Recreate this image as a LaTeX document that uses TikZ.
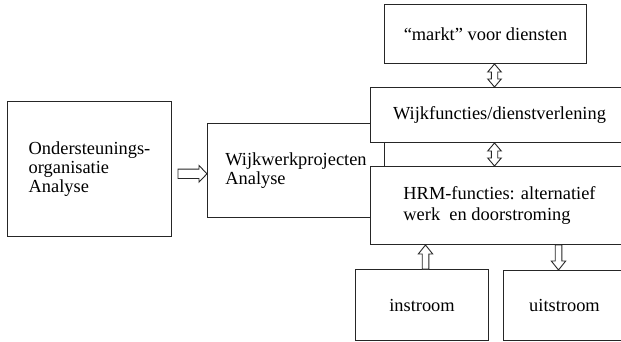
\documentclass[tikz,border=0pt]{standalone}
\usepackage{fontspec}
\setmainfont{Liberation Serif}
\usetikzlibrary{calc}

\tikzset{
  box/.style={draw=black!85, line width=1pt, fill=white, rectangle,
    inner sep=0pt, anchor=north west, align=left,
    font=\fontsize{18.4}{19}\selectfont},
  hollow/.style={draw=black!85, line width=0.9pt, fill=white, line join=miter},
}

% open single-headed arrow: tail, tip, shaft half-width, head half-width, head length
\newcommand\openarrow[5]{%
  \coordinate (oa-h) at ($(#2)!#5!(#1)$);
  \draw[hollow] ($(#1)!#3!90:(#2)$) -- ($(oa-h)!#3!90:(#2)$)
    -- ($(oa-h)!#4!90:(#2)$) -- (#2) -- ($(oa-h)!#4!-90:(#2)$)
    -- ($(oa-h)!#3!-90:(#2)$) -- ($(#1)!#3!-90:(#2)$) -- cycle;
}
% open double-headed arrow between two points
\newcommand\opendoublearrow[5]{%
  \coordinate (da-a) at ($(#1)!#5!(#2)$);
  \coordinate (da-b) at ($(#2)!#5!(#1)$);
  \draw[hollow] (#1) -- ($(da-a)!#4!90:(#2)$) -- ($(da-a)!#3!90:(#2)$)
    -- ($(da-b)!#3!90:(#2)$) -- ($(da-b)!#4!90:(#2)$) -- (#2)
    -- ($(da-b)!#4!-90:(#2)$) -- ($(da-b)!#3!-90:(#2)$)
    -- ($(da-a)!#3!-90:(#2)$) -- ($(da-a)!#4!-90:(#2)$) -- cycle;
}

\begin{document}
\begin{tikzpicture}[x=1pt, y=-1pt]
  \useasboundingbox (0,0) rectangle (621,342);
  \clip (0,0) rectangle (621,342);

  % boxes
  \node[box, minimum width=164, minimum height=135] (L) at (7,101)
    {Ondersteunings-\\organisatie\\Analyse};
  \node[box, minimum width=177, minimum height=94] (WP) at (207,123)
    {Wijkwerkprojecten\\Analyse};
  \node[box, minimum width=258, minimum height=55] (WF) at (370,87)
    {Wijkfuncties/dienstverlening};
  \node[box, minimum width=258, minimum height=78,
    font=\fontsize{18.4}{21}\selectfont] (HRM) at (370,166)
    {HRM-functies: alternatief\\werk\ \ en doorstroming};
  \node[box, minimum width=202, minimum height=59] (M) at (384,4)
    {“markt” voor diensten};
  \node[box, minimum width=133, minimum height=71] (I) at (355,269)
    {instroom};
  \node[box, minimum width=122, minimum height=70] (U) at (503,270)
    {uitstroom};

  % connector end points
  \coordinate (a1) at ([yshift=-3.3pt]WP.west);
  \coordinate (a0) at ($(L.east |- a1)+(6,0)$);
  \coordinate (b0) at ($(M.south)+(9,0)$);
  \coordinate (b1) at (WF.north -| b0);
  \coordinate (c0) at (WF.south -| b0);
  \coordinate (c1) at (HRM.north -| b0);
  \coordinate (d0) at ($(I.north)+(3.5,0)$);
  \coordinate (d1) at (HRM.south -| d0);
  \coordinate (e1) at ($(U.north)+(-6,0)$);
  \coordinate (e0) at (HRM.south -| e1);

  % connectors
  \openarrow{a0}{a1}{4.7pt}{8.3pt}{8pt}
  \opendoublearrow{b0}{b1}{3.2pt}{6.8pt}{8pt}
  \opendoublearrow{c0}{c1}{3.2pt}{6.8pt}{8pt}
  \openarrow{d0}{d1}{3.3pt}{7.2pt}{9pt}
  \openarrow{e0}{e1}{3.3pt}{7.2pt}{9pt}
\end{tikzpicture}
\end{document}
